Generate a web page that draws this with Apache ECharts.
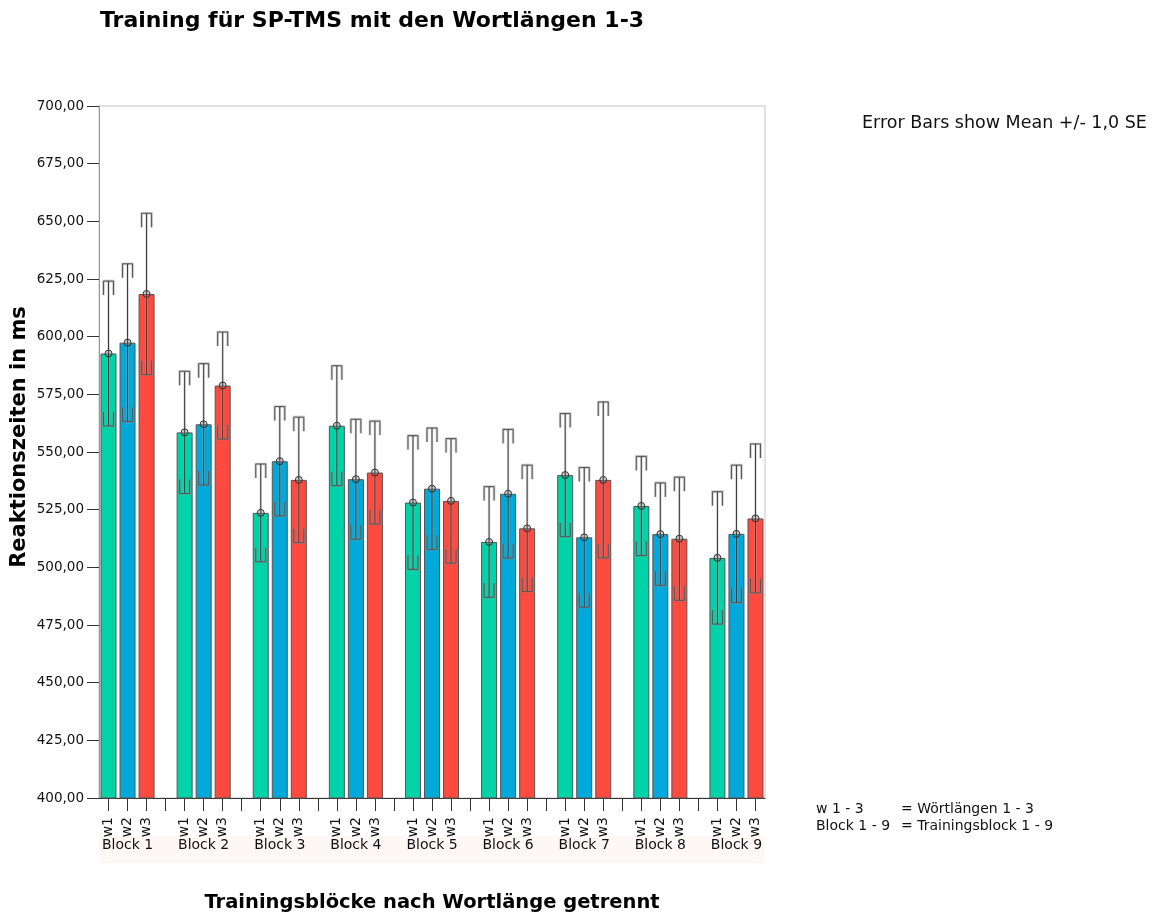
<!DOCTYPE html>
<html>
<head>
<meta charset="utf-8">
<script src="https://cdn.jsdelivr.net/npm/echarts@6/dist/echarts.min.js"></script>
<style>
  html, body { margin: 0; padding: 0; background: #ffffff; }
  #chart { width: 1167px; height: 915px; }
</style>
</head>
<body>
<div id="chart"></div>
<script>
// Blocks and word lengths
const blockNames = ['Block 1', 'Block 2', 'Block 3', 'Block 4', 'Block 5', 'Block 6', 'Block 7', 'Block 8', 'Block 9'];
const wordNames = ['w1', 'w2', 'w3'];

// Mean reaction times (ms) per block, one array per word length
const meanW1 = [592.7, 558.5, 523.6, 561.4, 528.1, 511.0, 540.0, 526.6, 504.1];
const meanW2 = [597.4, 562.0, 546.0, 538.2, 534.1, 531.9, 513.0, 514.4, 514.5];
const meanW3 = [618.5, 578.8, 537.9, 541.1, 528.8, 516.9, 537.9, 512.4, 521.2];

// Standard errors (ms)
const seW1 = [31.4, 26.5, 21.2, 26.0, 29.0, 24.0, 26.7, 21.5, 28.7];
const seW2 = [34.2, 26.3, 23.7, 26.0, 26.3, 27.9, 30.3, 22.2, 29.8];
const seW3 = [35.0, 23.2, 27.2, 22.3, 27.0, 27.4, 33.8, 26.7, 32.3];

// Y axis range
const yMin = 400, yMax = 700, yStep = 25;

const colors = ['#00d3a7', '#00a9d9', '#ff4a40'];
const FONT = 'DejaVu Sans';

// Each block takes three slots plus one empty slot between blocks
const slotsPerBlock = 4;
const nSlots = blockNames.length * slotsPerBlock - 1;
const slotLabels = [];
const blockLabels = [];
for (let i = 0; i < nSlots; i++) {
  const w = i % slotsPerBlock;
  slotLabels.push(w < 3 ? wordNames[w] : '');
  blockLabels.push(w === 1 ? blockNames[Math.floor(i / slotsPerBlock)] : '');
}

const means = [meanW1, meanW2, meanW3];
const ses = [seW1, seW2, seW3];

function barData(wi) {
  const arr = new Array(nSlots).fill(null);
  means[wi].forEach((v, b) => { arr[b * slotsPerBlock + wi] = v; });
  return arr;
}
const errData = [];
means.forEach((m, wi) => m.forEach((v, b) => errData.push([b * slotsPerBlock + wi, v, ses[wi][b]])));

// Whisker with pitchfork-style caps and a small ring at the mean
function renderErr(params, api) {
  const idx = api.value(0), mean = api.value(1), se = api.value(2);
  const hi = api.coord([idx, mean + se]);
  const lo = api.coord([idx, mean - se]);
  const mid = api.coord([idx, mean]);
  const x = hi[0], hw = 5, prong = 14;
  const halo = { stroke: 'rgba(140,140,140,0.45)', lineWidth: 2.6, fill: null };
  const line = { stroke: '#555', lineWidth: 1, fill: null };
  const caps = [
    [[x - hw, hi[1] + prong], [x - hw, hi[1]], [x + hw, hi[1]], [x + hw, hi[1] + prong]],
    [[x - hw, lo[1] - prong], [x - hw, lo[1]], [x + hw, lo[1]], [x + hw, lo[1] - prong]]
  ];
  const children = [];
  [halo, line].forEach(st => {
    children.push({ type: 'line', shape: { x1: x, y1: hi[1], x2: x, y2: lo[1] }, style: st === line ? { stroke: '#3a3a3a', lineWidth: 1 } : { stroke: 'rgba(170,170,170,0.45)', lineWidth: 2.5 } });
    caps.forEach(p => children.push({ type: 'polyline', shape: { points: p }, style: st }));
  });
  children.push({ type: 'circle', shape: { cx: mid[0], cy: mid[1], r: 3.5 }, style: { fill: 'rgba(90,90,90,0.25)', stroke: '#333', lineWidth: 1 } });
  return { type: 'group', children };
}

const chart = echarts.init(document.getElementById('chart'), null, { renderer: 'canvas' });

chart.setOption({
  backgroundColor: '#ffffff',
  animation: false,
  textStyle: { fontFamily: FONT },
  grid: { left: 99, top: 106, width: 666, height: 692, show: true, borderColor: '#c4c4c4', borderWidth: 1, backgroundColor: 'transparent' },
  xAxis: [
    {
      type: 'category', data: slotLabels, boundaryGap: true, position: 'bottom',
      axisLine: { lineStyle: { color: '#333', width: 1 } },
      axisTick: { show: true, alignWithLabel: true, interval: 0, length: 13, lineStyle: { color: '#333' } },
      axisLabel: { interval: 0, rotate: 90, margin: 19, fontSize: 14, color: '#111', fontFamily: FONT },
      splitLine: { show: false }
    },
    {
      type: 'category', data: blockLabels, boundaryGap: true, position: 'bottom', offset: 0,
      axisLine: { show: false }, axisTick: { show: false }, splitLine: { show: false },
      axisLabel: { interval: 0, margin: 40, fontSize: 14, color: '#111', fontFamily: FONT }
    }
  ],
  yAxis: {
    type: 'value', min: yMin, max: yMax, interval: yStep,
    axisLine: { show: true, lineStyle: { color: '#999', width: 1 } },
    axisTick: { show: true, length: 12, lineStyle: { color: '#333' } },
    axisLabel: { margin: 15, fontSize: 13.5, color: '#111', fontFamily: FONT, formatter: v => v.toFixed(2).replace('.', ',') },
    splitLine: { show: false }
  },
  series: [0, 1, 2].map(wi => ({
    type: 'bar', name: wordNames[wi], data: barData(wi), barWidth: 16, barGap: '-100%',
    itemStyle: { color: colors[wi], borderColor: '#555', borderWidth: 1 },
    z: 2
  })).concat([{
    type: 'custom', name: 'SE', data: errData, renderItem: renderErr,
    encode: { x: 0, y: 1 }, z: 5, clip: false
  }]),
  graphic: [
    { type: 'rect', z: -10, silent: true, shape: { x: 99, y: 836, width: 666, height: 27 }, style: { fill: '#fdf7f6' } },
    { type: 'text', left: 100, top: 10, style: { text: 'Training für SP-TMS mit den Wortlängen 1-3', font: 'bold 22px "DejaVu Sans"', fill: '#000' } },
    { type: 'text', x: 20, y: 437, rotation: Math.PI / 2, style: { text: 'Reaktionszeiten in ms', font: 'bold 21px "DejaVu Sans"', fill: '#000', align: 'center', verticalAlign: 'middle' } },
    { type: 'text', x: 432, y: 903, style: { text: 'Trainingsblöcke nach Wortlänge getrennt', font: 'bold 19.5px "DejaVu Sans"', fill: '#000', align: 'center', verticalAlign: 'middle' } },
    { type: 'text', x: 862, y: 123, style: { text: 'Error Bars show Mean +/- 1,0 SE', font: '17.5px "DejaVu Sans"', fill: '#111', align: 'left', verticalAlign: 'middle' } },
    { type: 'text', x: 816, y: 809, style: { text: 'w 1 - 3', font: '14px "DejaVu Sans"', fill: '#111', align: 'left', verticalAlign: 'middle' } },
    { type: 'text', x: 901, y: 809, style: { text: '= Wörtlängen 1 - 3', font: '14px "DejaVu Sans"', fill: '#111', align: 'left', verticalAlign: 'middle' } },
    { type: 'text', x: 816, y: 826, style: { text: 'Block 1 - 9', font: '14px "DejaVu Sans"', fill: '#111', align: 'left', verticalAlign: 'middle' } },
    { type: 'text', x: 901, y: 826, style: { text: '= Trainingsblock 1 - 9', font: '14px "DejaVu Sans"', fill: '#111', align: 'left', verticalAlign: 'middle' } }
  ]
});
</script>
</body>
</html>
